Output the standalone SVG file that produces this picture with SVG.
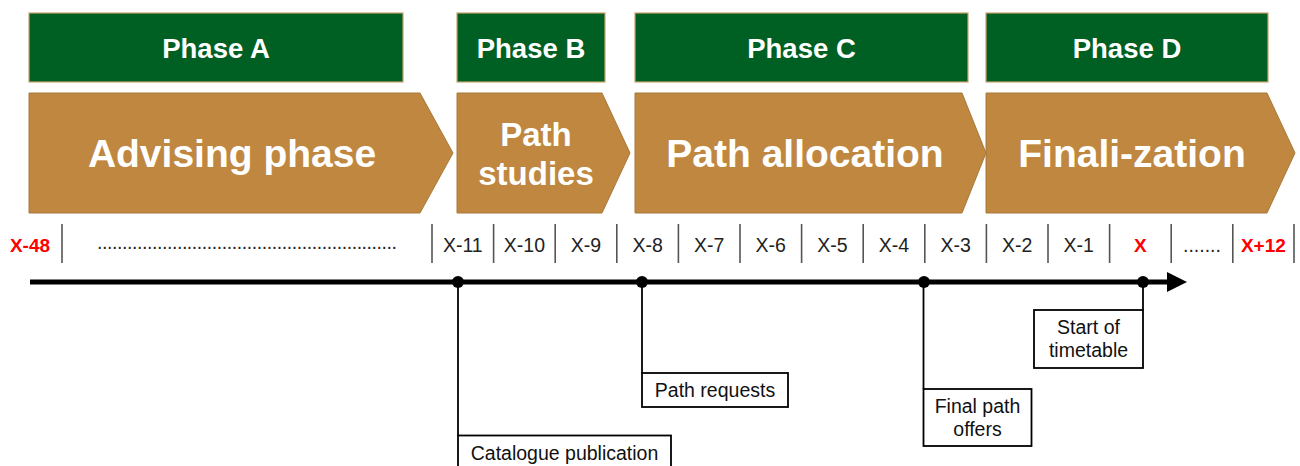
<svg xmlns="http://www.w3.org/2000/svg" width="1300" height="466" viewBox="0 0 1300 466">
<style>
.phase{fill:#005F22;stroke:#C9A36E;stroke-width:1.2}
.arrow{fill:#BF873F;stroke:#A8783A;stroke-width:1}
.pt{font-family:"Liberation Sans",Arial,sans-serif;font-weight:bold;font-size:27.5px;fill:#fff;text-anchor:middle}
.at{font-family:"Liberation Sans",Arial,sans-serif;font-weight:bold;font-size:39px;fill:#fff;text-anchor:middle}
.as{font-family:"Liberation Sans",Arial,sans-serif;font-weight:bold;font-size:33px;fill:#fff;text-anchor:middle}
.tk{stroke:#555;stroke-width:1.6}
.tl{font-family:"Liberation Sans",Arial,sans-serif;font-size:19.5px;fill:#222;text-anchor:middle}
.tr{font-family:"Liberation Sans",Arial,sans-serif;font-size:19px;font-weight:bold;fill:#FF0000;text-anchor:middle}
.box{fill:#fff;stroke:#000;stroke-width:1.8}
.bl{font-family:"Liberation Sans",Arial,sans-serif;font-size:19.5px;fill:#111;text-anchor:middle}
.con{stroke:#000;stroke-width:1.8;fill:none}
</style>
<defs>
<marker id="ah" markerWidth="20" markerHeight="20" refX="0" refY="10" orient="auto" markerUnits="userSpaceOnUse" viewBox="0 0 20 20">
<path d="M0,0 L20,10 L0,20 Z" fill="#000"/>
</marker>
</defs>

<g id="phaseA"><rect class="phase" x="29" y="13" width="374" height="69"/><text class="pt" x="216" y="58">Phase A</text></g>
<g id="phaseB"><rect class="phase" x="457" y="13" width="148" height="69"/><text class="pt" x="531" y="58">Phase B</text></g>
<g id="phaseC"><rect class="phase" x="635" y="13" width="333" height="69"/><text class="pt" x="801.5" y="58">Phase C</text></g>
<g id="phaseD"><rect class="phase" x="986" y="13" width="282" height="69"/><text class="pt" x="1127" y="58">Phase D</text></g>

<g id="advising"><path class="arrow" d="M29,93 L420,93 L453,153 L420,213 L29,213 Z"/><text class="at" x="232" y="167">Advising phase</text></g>
<g id="studies"><path class="arrow" d="M457,93 L602,93 L630,153 L602,213 L457,213 Z"/><text class="as" x="536" y="146">Path</text><text class="as" x="536" y="185">studies</text></g>
<g id="allocation"><path class="arrow" d="M635,93 L962,93 L986,153 L962,213 L635,213 Z"/><text class="at" x="805" y="167">Path allocation</text></g>
<g id="finalization"><path class="arrow" d="M986,93 L1267,93 L1295,153 L1267,213 L986,213 Z"/><text class="at" x="1132" y="167">Finali-zation</text></g>

<g id="scale">
<line class="tk" x1="62" y1="224" x2="62" y2="263"/>
<line class="tk" x1="432" y1="224" x2="432" y2="263"/>
<line class="tk" x1="493.6" y1="224" x2="493.6" y2="263"/>
<line class="tk" x1="555.2" y1="224" x2="555.2" y2="263"/>
<line class="tk" x1="616.8" y1="224" x2="616.8" y2="263"/>
<line class="tk" x1="678.4" y1="224" x2="678.4" y2="263"/>
<line class="tk" x1="740" y1="224" x2="740" y2="263"/>
<line class="tk" x1="801.6" y1="224" x2="801.6" y2="263"/>
<line class="tk" x1="863.2" y1="224" x2="863.2" y2="263"/>
<line class="tk" x1="924.8" y1="224" x2="924.8" y2="263"/>
<line class="tk" x1="986.4" y1="224" x2="986.4" y2="263"/>
<line class="tk" x1="1048" y1="224" x2="1048" y2="263"/>
<line class="tk" x1="1109.6" y1="224" x2="1109.6" y2="263"/>
<line class="tk" x1="1171.2" y1="224" x2="1171.2" y2="263"/>
<line class="tk" x1="1232.8" y1="224" x2="1232.8" y2="263"/>
<line class="tk" x1="1294" y1="224" x2="1294" y2="263"/>
<text class="tr" x="30" y="252">X-48</text>
<text class="tl" x="247" y="249" font-size="17" textLength="300" lengthAdjust="spacing">............................................................</text>
<text class="tl" x="462.8" y="252">X-11</text>
<text class="tl" x="524.4" y="252">X-10</text>
<text class="tl" x="586" y="252">X-9</text>
<text class="tl" x="647.6" y="252">X-8</text>
<text class="tl" x="709.2" y="252">X-7</text>
<text class="tl" x="770.8" y="252">X-6</text>
<text class="tl" x="832.4" y="252">X-5</text>
<text class="tl" x="894" y="252">X-4</text>
<text class="tl" x="955.6" y="252">X-3</text>
<text class="tl" x="1017.2" y="252">X-2</text>
<text class="tl" x="1078.8" y="252">X-1</text>
<text class="tr" x="1140.4" y="252">X</text>
<text class="tl" x="1202" y="252">.......</text>
<text class="tr" x="1263.4" y="252">X+12</text>
</g>

<g id="connectors">
<line x1="30" y1="282" x2="1167" y2="282" stroke="#000" stroke-width="5" marker-end="url(#ah)"/>
<line class="con" x1="458" y1="282" x2="458" y2="436"/>
<line class="con" x1="642" y1="282" x2="642" y2="373"/>
<line class="con" x1="923.5" y1="282" x2="923.5" y2="389"/>
<line class="con" x1="1143" y1="282" x2="1143" y2="310"/>
<circle cx="458" cy="282" r="6" fill="#000"/>
<circle cx="642" cy="282" r="6" fill="#000"/>
<circle cx="924" cy="282" r="6" fill="#000"/>
<circle cx="1143" cy="282" r="6" fill="#000"/>
</g>

<g id="catalogue"><rect class="box" x="458" y="435.5" width="213" height="40"/><text class="bl" x="564.5" y="460">Catalogue publication</text></g>
<g id="requests"><rect class="box" x="642" y="373" width="146" height="34"/><text class="bl" x="715" y="397">Path requests</text></g>
<g id="offers"><rect class="box" x="923.5" y="389" width="108" height="57"/><text class="bl" x="977.5" y="413">Final path</text><text class="bl" x="977.5" y="436">offers</text></g>
<g id="start"><rect class="box" x="1034" y="310" width="109" height="58"/><text class="bl" x="1088.5" y="334">Start of</text><text class="bl" x="1088.5" y="357">timetable</text></g>
</svg>
